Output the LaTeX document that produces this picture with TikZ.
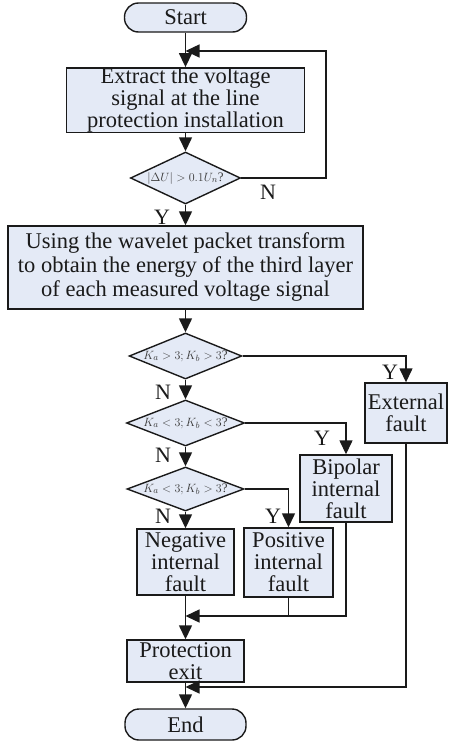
\documentclass[tikz,border=0pt]{standalone}
\usepackage{fontspec}
\setmainfont{Liberation Serif}
\usetikzlibrary{shapes.geometric,arrows.meta}
\definecolor{FlowFill}{HTML}{E4EAF6}
\definecolor{FlowInk}{HTML}{1A1A1A}
\definecolor{FlowCond}{HTML}{3A3A3A}
\newcommand{\BoxText}{\fontsize{22.5}{22}\selectfont}
\newcommand{\WideText}{\fontsize{22.5}{24}\selectfont}
\newcommand{\CondText}{\fontsize{13}{13}\selectfont}
\tikzset{
  process box/.style={draw=FlowInk,fill=FlowFill,line width=1.4pt,inner sep=0pt,
    align=center,text=FlowInk,font=\BoxText},
  terminal box/.style={process box,rounded corners=14pt},
  decision box/.style={draw=FlowInk,fill=FlowFill,line width=1.4pt,diamond,aspect=2.6,
    inner sep=0pt,text=FlowCond,font=\CondText},
  flow line/.style={draw=FlowInk,line width=1.4pt},
  flow arrow/.style={flow line,-{Triangle[length=14pt,width=13pt]}},
  branch label/.style={text=FlowInk,font=\fontsize{22}{22}\selectfont,inner sep=0pt}
}

\begin{document}
\begin{tikzpicture}[x=1pt,y=-1pt]
  % pixel grid of the source figure, y grows downwards
  \path[use as bounding box] (0,0) rectangle (448,742);

  \def\colx{185.5}

  \node[terminal box,minimum width=122pt,minimum height=29pt] (start) at (\colx,17.5) {Start};
  \node[process box,minimum width=238pt,minimum height=62pt] (extract) at (\colx,100)
    {Extract the voltage\\signal at the line\\protection installation};
  \node[decision box,minimum width=110pt,minimum height=52pt] (dvolt) at (\colx,178)
    {$\left|\Delta U\right| > 0.1U_n$?};
  \node[process box,font=\WideText,minimum width=355pt,minimum height=83pt] (wavelet) at (\colx,267.5)
    {Using the wavelet packet transform\\to obtain the energy of the third layer\\of each measured voltage signal};
  \node[decision box,minimum width=112pt,minimum height=46pt] (dext) at (\colx,356)
    {$K_a > 3; K_b > 3$?};
  \node[decision box,minimum width=118pt,minimum height=46pt] (dbip) at (\colx,423)
    {$K_a < 3; K_b < 3$?};
  \node[decision box,minimum width=117pt,minimum height=44pt] (dpos) at (\colx,489)
    {$K_a < 3; K_b > 3$?};

  \node[process box,minimum width=82pt,minimum height=60pt] (external) at (406,413)
    {External\\fault};
  \node[process box,minimum width=92pt,minimum height=67pt] (bipolar) at (346,488.5)
    {Bipolar\\internal\\fault};
  \node[process box,minimum width=89pt,minimum height=69pt] (positive) at (288.5,562.5)
    {Positive\\internal\\fault};
  \node[process box,minimum width=97pt,minimum height=66pt] (negative) at (\colx,562)
    {Negative\\internal\\fault};
  \node[process box,minimum width=117pt,minimum height=42pt] (protexit) at (\colx,661)
    {Protection\\exit};
  \node[terminal box,minimum width=121pt,minimum height=31pt] (finish) at (\colx,724.5) {End};

  \coordinate (loopright) at (326,178);
  \coordinate (loopin) at (\colx,51);
  \coordinate (mergein) at (\colx,616);
  \coordinate (exitin) at (\colx,687);

  % main column
  \draw[flow arrow] (start) -- (extract);
  \draw[flow arrow] (extract) -- (dvolt);
  \draw[flow arrow] (dvolt) -- (wavelet);
  \draw[flow arrow] (wavelet) -- (dext);
  \draw[flow arrow] (dext) -- (dbip);
  \draw[flow arrow] (dbip) -- (dpos);
  \draw[flow arrow] (dpos) -- (negative);
  \draw[flow arrow] (negative) -- (protexit);
  \draw[flow arrow] (protexit) -- (finish);

  % branches
  \draw[flow arrow] (dvolt.east) -- (loopright) |- (loopin);
  \draw[flow arrow] (dext.east) -| (external.north);
  \draw[flow arrow] (dbip.east) -| (bipolar.north);
  \draw[flow arrow] (dpos.east) -| (positive.north);
  \draw[flow arrow] (bipolar.south) |- (mergein);
  \draw[flow line] (positive.south) -- (positive.south |- mergein);
  \draw[flow arrow] (external.south) |- (exitin);

  \node[branch label] (nvolt) at (268,192) {N};
  \node[branch label] (yvolt) at (162,217) {Y};
  \node[branch label] (yext) at (390,372) {Y};
  \node[branch label] (next) at (163,392) {N};
  \node[branch label] (ybip) at (322,438) {Y};
  \node[branch label] (nbip) at (163,455) {N};
  \node[branch label] (ypos) at (273,516) {Y};
  \node[branch label] (npos) at (163,516) {N};
\end{tikzpicture}
\end{document}
